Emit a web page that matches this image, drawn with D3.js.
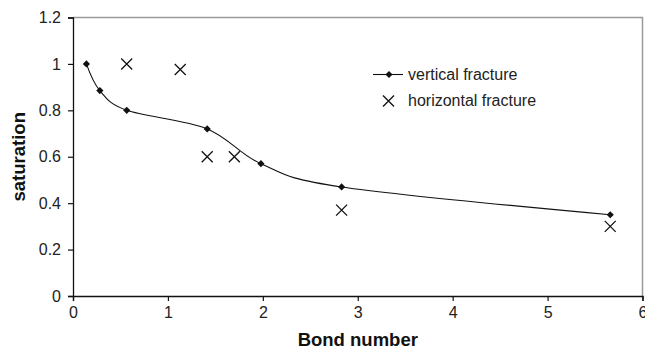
<!DOCTYPE html>
<html>
<head>
<meta charset="utf-8">
<script src="https://cdn.jsdelivr.net/npm/d3@7"></script>
<style>
    body { margin: 0; background: #fff; }
    svg { display: block; font-family: Arial, "Liberation Sans", sans-serif; }
</style>
</head>
<body>
<div id="chart"></div>
<script>
// Saturation against Bond number, vertical vs horizontal fracture.

const vertBond = [0.141, 0.283, 0.566, 1.414, 1.98, 2.83, 5.66];
const vertSat = [1.0, 0.885, 0.80, 0.72, 0.57, 0.47, 0.35];

const horizBond = [0.566, 1.13, 1.414, 1.70, 2.83, 5.66];
const horizSat = [1.0, 0.976, 0.60, 0.60, 0.37, 0.30];

const xTicks = [0, 1, 2, 3, 4, 5, 6];
const yTicks = [0, 0.2, 0.4, 0.6, 0.8, 1, 1.2];

const width = 645;
const height = 350;
const margin = { top: 17.5, right: 2.5, bottom: 54, left: 73 };

const svg = d3.select('#chart')
    .append('svg')
    .attr('width', width)
    .attr('height', height);

const x = d3.scaleLinear()
    .domain([0, 6])
    .range([margin.left, width - margin.right]);

const y = d3.scaleLinear()
    .domain([0, 1.2])
    .range([height - margin.bottom, margin.top]);

// Plot area border (top and right in grey).
svg.append('path')
    .attr('d', `M${x(0)},${y(1.2)}H${x(6)}V${y(0)}`)
    .attr('fill', 'none')
    .attr('stroke', '#9a9a9a')
    .attr('stroke-width', 1.5);

// Axes.
const xAxis = svg.append('g')
    .attr('transform', `translate(0,${y(0)})`)
    .call(d3.axisBottom(x).tickValues(xTicks).tickSize(5).tickPadding(6).tickFormat(d3.format('d')));

const yAxis = svg.append('g')
    .attr('transform', `translate(${x(0)},0)`)
    .call(d3.axisLeft(y).tickValues(yTicks).tickSize(5).tickPadding(7).tickFormat(d => String(+d.toFixed(1))));

[xAxis, yAxis].forEach(a => {
    a.select('.domain').attr('stroke', '#111').attr('stroke-width', 1.3);
    a.selectAll('.tick line').attr('stroke', '#111').attr('stroke-width', 1.2);
    a.selectAll('.tick text')
        .attr('fill', '#222')
        .style('font-size', '16px')
        .style('font-family', 'Arial, "Liberation Sans", sans-serif');
});

// Axis titles.
svg.append('text')
    .attr('x', (x(0) + x(6)) / 2)
    .attr('y', 346)
    .attr('text-anchor', 'middle')
    .attr('font-weight', 'bold')
    .attr('font-size', 18.5)
    .attr('fill', '#111')
    .text('Bond number');

svg.append('text')
    .attr('transform', `translate(25,${(y(0) + y(1.2)) / 2}) rotate(-90)`)
    .attr('text-anchor', 'middle')
    .attr('font-weight', 'bold')
    .attr('font-size', 18.5)
    .attr('fill', '#111')
    .text('saturation');

// Vertical fracture: smoothed line with diamond markers.
const vertData = vertBond.map((b, i) => ({ b, s: vertSat[i] }));
const line = d3.line()
    .x(d => x(d.b))
    .y(d => y(d.s))
    .curve(d3.curveCardinal.tension(0));

svg.append('path')
    .datum(vertData)
    .attr('d', line)
    .attr('fill', 'none')
    .attr('stroke', '#111')
    .attr('stroke-width', 1.1);

const diamond = 'M0,-3.6L3.6,0L0,3.6L-3.6,0Z';

svg.append('g')
    .selectAll('path')
    .data(vertData)
    .enter()
    .append('path')
    .attr('d', diamond)
    .attr('transform', d => `translate(${x(d.b)},${y(d.s)})`)
    .attr('fill', '#111');

// Horizontal fracture: X markers.
const horizData = horizBond.map((b, i) => ({ b, s: horizSat[i] }));
const cross = 'M-5.5,-5.5L5.5,5.5M-5.5,5.5L5.5,-5.5';

svg.append('g')
    .selectAll('path')
    .data(horizData)
    .enter()
    .append('path')
    .attr('d', cross)
    .attr('transform', d => `translate(${x(d.b)},${y(d.s)})`)
    .attr('stroke', '#111')
    .attr('stroke-width', 1.3)
    .attr('fill', 'none');

// Legend.
const legend = svg.append('g');

legend.append('line')
    .attr('x1', 373).attr('x2', 403)
    .attr('y1', 74.5).attr('y2', 74.5)
    .attr('stroke', '#111')
    .attr('stroke-width', 1.1);

legend.append('path')
    .attr('d', diamond)
    .attr('transform', 'translate(389,74.5)')
    .attr('fill', '#111');

legend.append('path')
    .attr('d', cross)
    .attr('transform', 'translate(388.5,101)')
    .attr('stroke', '#111')
    .attr('stroke-width', 1.3)
    .attr('fill', 'none');

legend.selectAll('text')
    .data(['vertical fracture', 'horizontal fracture'])
    .enter()
    .append('text')
    .attr('x', 408)
    .attr('y', (d, i) => 79.5 + i * 26)
    .attr('font-size', 16)
    .attr('fill', '#222')
    .text(d => d);
</script>
</body>
</html>
